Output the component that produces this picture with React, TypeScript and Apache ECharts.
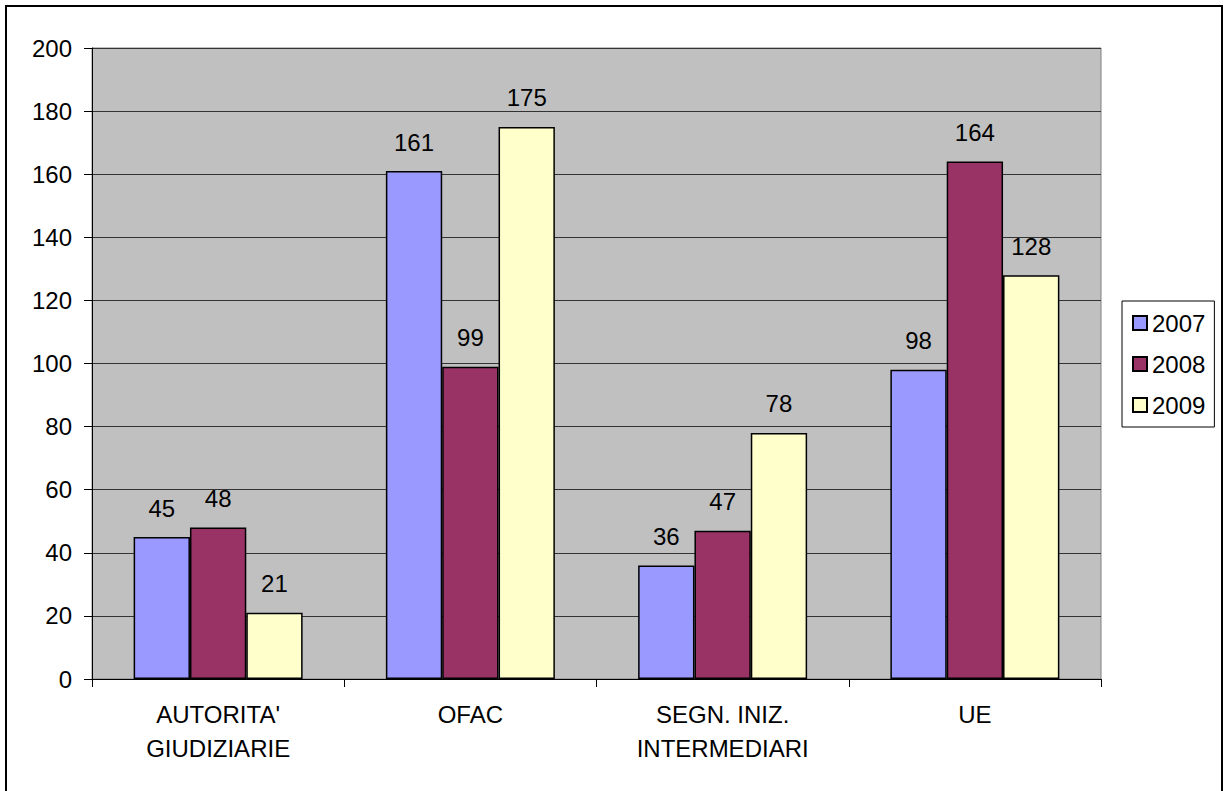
import React, { useEffect, useRef } from "react";
import * as echarts from "echarts";

const categories = ["AUTORITA'\nGIUDIZIARIE", "OFAC", "SEGN. INIZ.\nINTERMEDIARI", "UE"];
const seriesNames = ["2007", "2008", "2009"];
const values2007 = [45, 161, 36, 98];
const values2008 = [48, 99, 47, 164];
const values2009 = [21, 175, 78, 128];
const colors = ["#9999FF", "#993366", "#FFFFCC"];

const FONT = "'Liberation Sans', Arial, sans-serif";

export default function App() {
  const ref = useRef<HTMLDivElement>(null);
  useEffect(() => {
    if (!ref.current) return;
    const chart = echarts.init(ref.current, undefined, { renderer: "svg" });
    const data = [values2007, values2008, values2009];
    chart.setOption({
      animation: false,
      backgroundColor: "#ffffff",
      textStyle: { fontFamily: FONT },
      grid: {
        left: 92,
        top: 48,
        right: 125,
        bottom: 112,
        show: true,
        backgroundColor: "#C0C0C0",
        borderColor: "#808080",
        borderWidth: 1,
      },
      legend: {
        orient: "vertical",
        left: 1122,
        top: 301,
        padding: [10, 9, 10, 10],
        borderColor: "#000",
        borderWidth: 1,
        itemWidth: 14,
        itemHeight: 14,
        itemGap: 17,
        icon: "rect",
        textStyle: { fontFamily: FONT, fontSize: 24, color: "#000", lineHeight: 24 },
        data: seriesNames,
      },
      xAxis: {
        type: "category",
        data: categories,
        axisLine: { lineStyle: { color: "#000", width: 1 } },
        axisTick: { show: true, length: 8, lineStyle: { color: "#000" } },
        axisLabel: {
          fontFamily: FONT,
          fontSize: 24,
          color: "#000",
          lineHeight: 34,
          margin: 18,
          interval: 0,
        },
      },
      yAxis: {
        type: "value",
        min: 0,
        max: 200,
        interval: 20,
        axisLine: { show: true, lineStyle: { color: "#000", width: 1 } },
        axisTick: { show: true, length: 8, lineStyle: { color: "#000" } },
        axisLabel: { fontFamily: FONT, fontSize: 24, color: "#000", margin: 20 },
        splitLine: { show: true, lineStyle: { color: "#333", width: 1 } },
      },
      graphic: [
        {
          type: "rect",
          shape: { x: 6, y: 6, width: 1216, height: 820 },
          style: { fill: "none", stroke: "#000", lineWidth: 2 },
          silent: true,
        },
      ],
      series: seriesNames.map((name, i) => ({
        name,
        type: "bar",
        data: data[i],
        barGap: "0%",
        barCategoryGap: "33%",
        itemStyle: { color: colors[i], borderColor: "#000", borderWidth: 1.5 },
        label: {
          show: true,
          position: "top",
          distance: 17,
          fontFamily: FONT,
          fontSize: 24,
          color: "#000",
        },
      })),
    });
    return () => chart.dispose();
  }, []);
  return (
    <div
      ref={ref}
      style={{ position: "absolute", left: 0, top: 0, width: 1226, height: 791 }}
    />
  );
}
